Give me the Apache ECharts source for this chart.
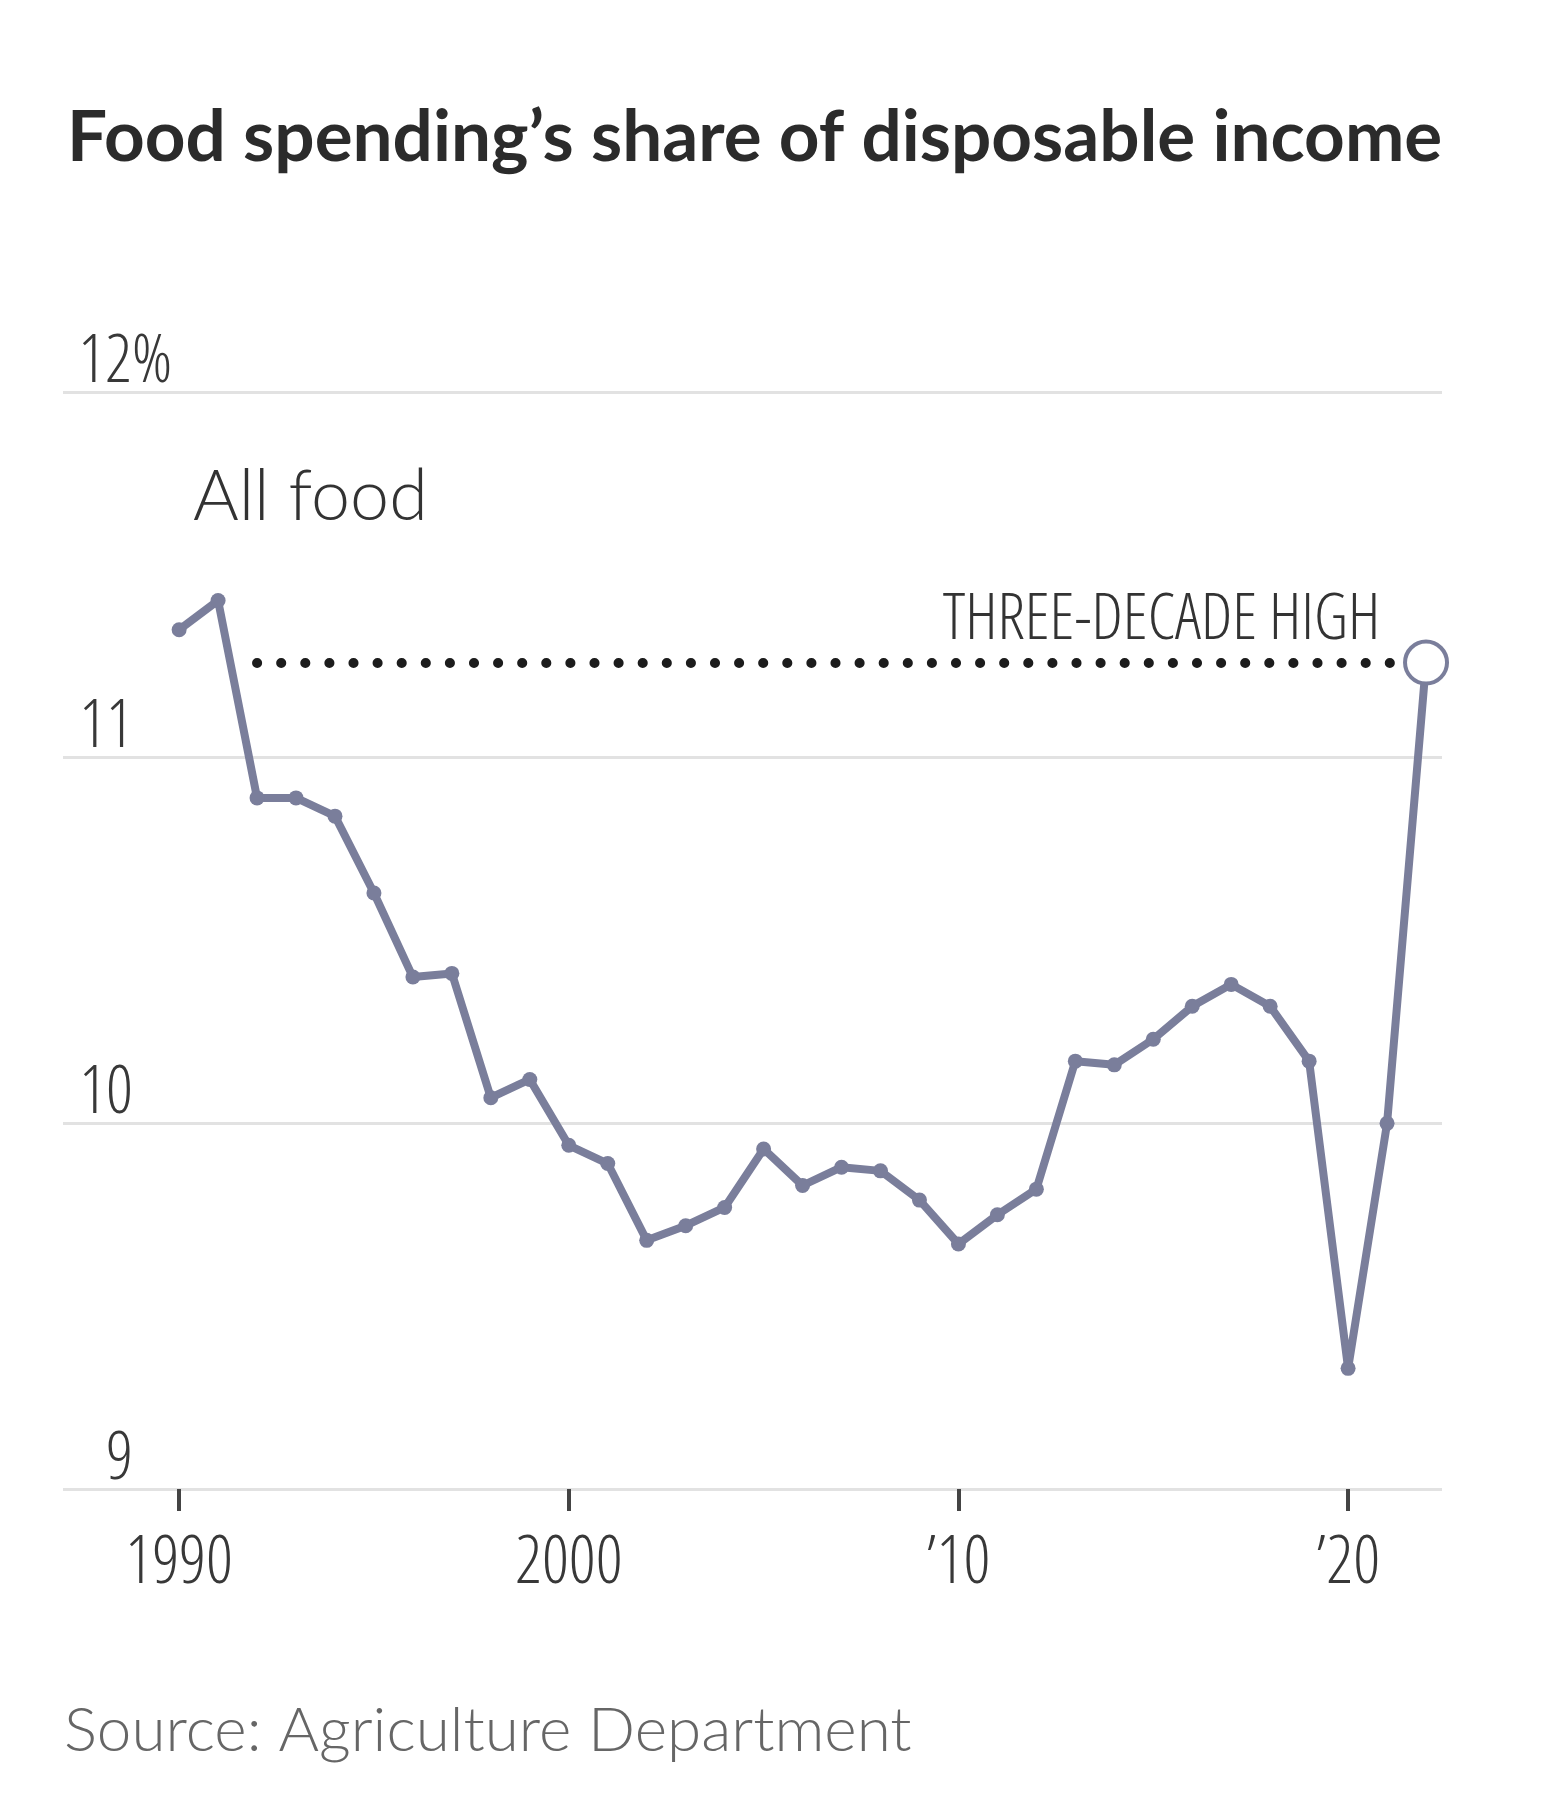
<!DOCTYPE html>
<html>
<head>
<meta charset="utf-8">
<title>Food spending's share of disposable income</title>
<script src="https://cdn.jsdelivr.net/npm/echarts@6.0.0/dist/echarts.min.js"></script>
<style>
  html, body { margin: 0; padding: 0; background: #fff; }
  #chart { width: 1554px; height: 1800px; }
</style>
</head>
<body>
<div id="chart"></div>
<script>
// data (percent of disposable income)
var years = [1990, 1991, 1992, 1993, 1994, 1995, 1996, 1997, 1998, 1999,
             2000, 2001, 2002, 2003, 2004, 2005, 2006, 2007, 2008, 2009,
             2010, 2011, 2012, 2013, 2014, 2015, 2016, 2017, 2018, 2019,
             2020, 2021, 2022];
var shares = [11.35, 11.43, 10.89, 10.89, 10.84, 10.63, 10.40, 10.41, 10.07, 10.12,
              9.94, 9.89, 9.68, 9.72, 9.77, 9.93, 9.83, 9.88, 9.87, 9.79,
              9.67, 9.75, 9.82, 10.17, 10.16, 10.23, 10.32, 10.38, 10.32, 10.17,
              9.33, 10.00, 11.26];
var yTicks = [9, 10, 11, 12];
var xTicks = [1990, 2000, 2010, 2020];
var xTickLabels = ['1990', '2000', '\u201910', '\u201920'];

var lineColor = '#7a7e9b';
// light condensed face for the axis labels and the note
var narrowFont = "'Open Sans'";
var narrowWeight = '300 condensed';
var labelColor = '#383838';
var labelSize = 66;

var myChart = echarts.init(document.getElementById('chart'));

var points = [];
for (var i = 0; i < years.length; i++) {
    points.push([years[i], shares[i]]);
}
var last = points.length - 1;
var lastValue = shares[last];
points[last] = {
    value: [years[last], lastValue],
    symbolSize: 42,
    itemStyle: { color: '#fff', borderColor: lineColor, borderWidth: 4 }
};

var option = {
    animation: false,
    backgroundColor: '#fff',
    title: [
        {
            text: 'Food spending\u2019s share of disposable income',
            left: 62,
            top: 98,
            textStyle: { fontFamily: 'Lato', fontWeight: 'bold', fontSize: 71, color: '#2b2b2b' }
        },
        {
            text: 'All food',
            left: 188,
            top: 457,
            textStyle: { fontFamily: 'Lato', fontWeight: 300, fontSize: 70, color: '#333' }
        },
        {
            text: 'Source: Agriculture Department',
            left: 59,
            top: 1695,
            textStyle: { fontFamily: 'Lato', fontWeight: 300, fontSize: 62, color: '#666' }
        }
    ],
    grid: { left: 63, right: 112, top: 392, bottom: 311 },
    xAxis: {
        type: 'value',
        min: 1987.02,
        max: 2022.41,
        splitLine: { show: false },
        axisLine: { show: false },
        axisTick: {
            show: true,
            customValues: xTicks,
            length: 22,
            lineStyle: { color: '#444', width: 4 }
        },
        axisLabel: {
            customValues: xTicks,
            margin: 42,
            fontFamily: narrowFont,
            fontWeight: narrowWeight,
            fontSize: labelSize,
            color: labelColor,
            formatter: function (v) {
                return xTickLabels[xTicks.indexOf(v)];
            }
        }
    },
    yAxis: {
        type: 'value',
        min: yTicks[0],
        max: yTicks[yTicks.length - 1],
        interval: 1,
        axisLine: { show: false },
        axisTick: { show: false },
        splitLine: { lineStyle: { color: '#e2e2e2', width: 3 } },
        axisLabel: {
            inside: true,
            align: 'right',
            verticalAlign: 'bottom',
            margin: 70,
            fontFamily: narrowFont,
            fontWeight: narrowWeight,
            fontSize: labelSize,
            lineHeight: 58,
            color: labelColor,
            formatter: function (v) {
                if (v === yTicks[yTicks.length - 1]) {
                    return '{n|' + v + '}{p|%}';
                }
                return '{n|' + v + '}';
            },
            rich: {
                n: { fontFamily: narrowFont, fontWeight: narrowWeight, fontSize: labelSize, lineHeight: 58, color: labelColor, align: 'left' },
                p: { fontFamily: narrowFont, fontWeight: narrowWeight, fontSize: labelSize, lineHeight: 58, color: labelColor, align: 'left', width: 1 }
            }
        }
    },
    series: [
        {
            name: 'All food',
            type: 'line',
            data: points,
            clip: false,
            symbol: 'circle',
            symbolSize: 15,
            itemStyle: { color: lineColor },
            lineStyle: { color: lineColor, width: 8 },
            markLine: {
                silent: true,
                symbol: 'none',
                lineStyle: { color: '#1c1c1c', width: 10, type: [0.1, 24], cap: 'round' },
                label: {
                    show: true,
                    position: 'insideEndTop',
                    distance: [28, 12],
                    formatter: 'THREE-DECADE HIGH',
                    fontFamily: narrowFont,
                    fontWeight: narrowWeight,
                    fontSize: 64,
                    lineHeight: 60,
                    color: '#333'
                },
                data: [
                    [
                        { coord: [years[2], lastValue] },
                        { coord: [years[last] - 0.46, lastValue] }
                    ]
                ]
            }
        }
    ]
};

myChart.setOption(option);
</script>
</body>
</html>
